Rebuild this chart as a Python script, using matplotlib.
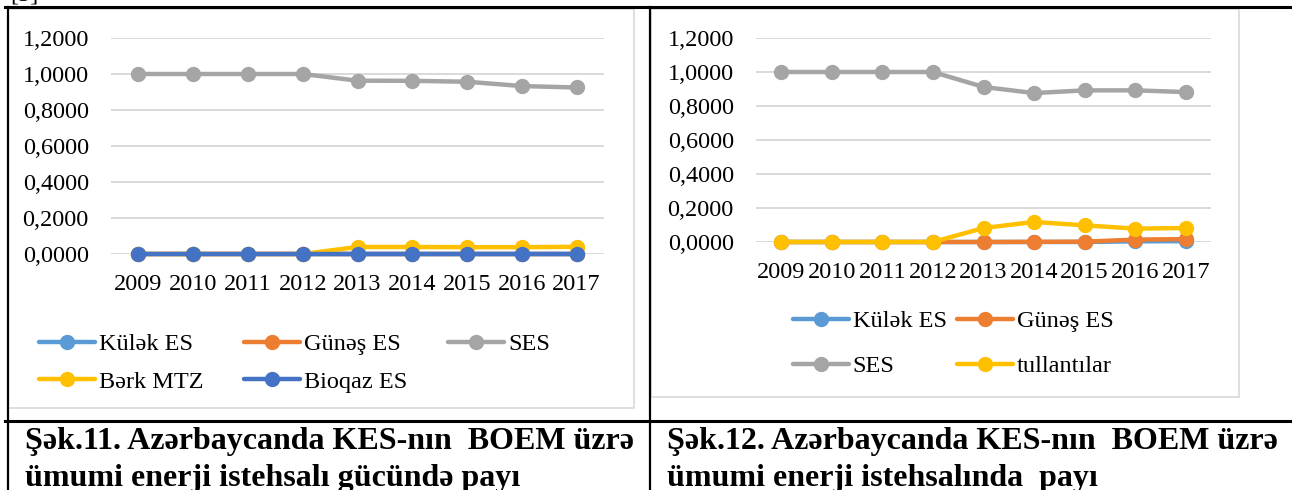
import matplotlib.pyplot as plt
from matplotlib.patches import Rectangle
from matplotlib.ticker import FuncFormatter

#font for everything (Times-like)
plt.rcParams['font.family'] = ['Liberation Serif', 'DejaVu Serif']

#data
years = ['2009', '2010', '2011', '2012', '2013', '2014', '2015', '2016', '2017']

#Şək.11 - share in capacity
kulek_cap = [0, 0, 0, 0, 0, 0, 0, 0, 0]
gunes_cap = [0, 0, 0, 0, 0, 0, 0, 0, 0]
ses_cap = [1.0, 1.0, 1.0, 1.0, 0.963, 0.962, 0.957, 0.933, 0.925]
berk_cap = [0, 0, 0, 0, 0.039, 0.039, 0.038, 0.038, 0.040]
bioqaz_cap = [0, 0, 0, 0, 0, 0, 0, 0, 0]

#Şək.12 - share in production
kulek_prod = [0, 0, 0, 0, 0, 0, 0, 0.004, 0.005]
gunes_prod = [0, 0, 0, 0, 0, 0.001, 0.002, 0.014, 0.017]
ses_prod = [1.0, 1.0, 1.0, 1.0, 0.912, 0.876, 0.892, 0.892, 0.882]
tull_prod = [0, 0, 0, 0, 0.082, 0.118, 0.098, 0.079, 0.082]

yticks = [0, 0.2, 0.4, 0.6, 0.8, 1.0, 1.2]

caption_left = ['Şək.11. Azərbaycanda KES-nın  BOEM üzrə', 'ümumi enerji istehsalı gücündə payı']
caption_right = ['Şək.12. Azərbaycanda KES-nın  BOEM üzrə', 'ümumi enerji istehsalında  payı']

#excel default colours
c_kulek = '#5B9BD5'
c_gunes = '#ED7D31'
c_ses = '#A5A5A5'
c_yellow = '#FFC000'
c_bio = '#4472C4'
c_grid = '#D9D9D9'

fs = 17.5

W, H = 1292, 490
fig = plt.figure(figsize=(W / 100, H / 100), dpi=100)

#pixel box -> figure fraction
def box(x0, y0, x1, y1):
    return [x0 / W, 1 - y1 / H, (x1 - x0) / W, (y1 - y0) / H]

#background axes in pixel coords for table lines and chart frames
bg = fig.add_axes([0, 0, 1, 1])
bg.set_xlim(0, W)
bg.set_ylim(H, 0)
bg.axis('off')

bg.text(10, 1, '[5]', fontsize=fs, va='baseline', ha='left')
bg.plot([5, W], [7, 7], color='black', lw=2.2)
bg.plot([8, 8], [7, H], color='black', lw=1.6)
bg.plot([650, 650], [7, H], color='black', lw=1.6)
bg.plot([5, W], [421, 421], color='black', lw=2.2)

bg.add_patch(Rectangle((7.5, 9), 626.5, 399, facecolor='white', edgecolor=c_grid, lw=1.2))
bg.add_patch(Rectangle((651, 9), 588, 388, facecolor='white', edgecolor=c_grid, lw=1.2))

#captions
for x, lines in [(25, caption_left), (667, caption_right)]:
    bg.text(x, 441, lines[0], fontsize=23, fontweight='bold', va='center', ha='left')
    bg.text(x, 478, lines[1], fontsize=23, fontweight='bold', va='center', ha='left')


def style_axes(ax):
    ax.set_xlim(-0.5, 8.5)
    ax.set_ylim(0, 1.2)
    ax.patch.set_visible(False)
    for s in ax.spines.values():
        s.set_visible(False)
    ax.set_yticks(yticks)
    ax.yaxis.set_major_formatter(FuncFormatter(lambda v, p: f'{v:.4f}'.replace('.', ',')))
    ax.set_xticks(range(len(years)))
    ax.set_xticklabels(years)
    ax.tick_params(axis='both', length=0, labelsize=fs)
    ax.tick_params(axis='y', pad=16)
    ax.tick_params(axis='x', pad=14.5)
    ax.grid(axis='y', color=c_grid, lw=1.4)
    ax.set_axisbelow(True)


def line(ax, vals, color, label):
    return ax.plot(range(len(years)), vals, color=color, lw=3.2, marker='o', ms=10,
                   label=label, clip_on=False, solid_capstyle='round')[0]


#left chart
ax1 = fig.add_axes(box(111, 38, 604, 254))
style_axes(ax1)
h1 = line(ax1, kulek_cap, c_kulek, 'Külək ES')
h2 = line(ax1, gunes_cap, c_gunes, 'Günəş ES')
h3 = line(ax1, ses_cap, c_ses, 'SES')
h4 = line(ax1, berk_cap, c_yellow, 'Bərk MTZ')
h5 = line(ax1, bioqaz_cap, c_bio, 'Bioqaz ES')
#reorder so it reads row by row
ax1.legend([h1, h4, h2, h5, h3], ['Külək ES', 'Bərk MTZ', 'Günəş ES', 'Bioqaz ES', 'SES'],
           ncol=3, loc='upper left', bbox_to_anchor=(39, 333), bbox_transform=bg.transData,
           frameon=False, fontsize=fs, handlelength=2.3, handletextpad=0.15,
           columnspacing=1.7, labelspacing=0.65, borderpad=0, borderaxespad=0)

#right chart
ax2 = fig.add_axes(box(756, 38, 1211, 242))
style_axes(ax2)
g1 = line(ax2, kulek_prod, c_kulek, 'Külək ES')
g2 = line(ax2, gunes_prod, c_gunes, 'Günəş ES')
g3 = line(ax2, ses_prod, c_ses, 'SES')
g4 = line(ax2, tull_prod, c_yellow, 'tullantılar')
ax2.legend([g1, g3, g2, g4], ['Külək ES', 'SES', 'Günəş ES', 'tullantılar'],
           ncol=2, loc='upper left', bbox_to_anchor=(793, 310), bbox_transform=bg.transData,
           frameon=False, fontsize=fs, handlelength=2.3, handletextpad=0.15,
           columnspacing=0.45, labelspacing=0.95, borderpad=0, borderaxespad=0)

fig.savefig('out.png', dpi=100)
